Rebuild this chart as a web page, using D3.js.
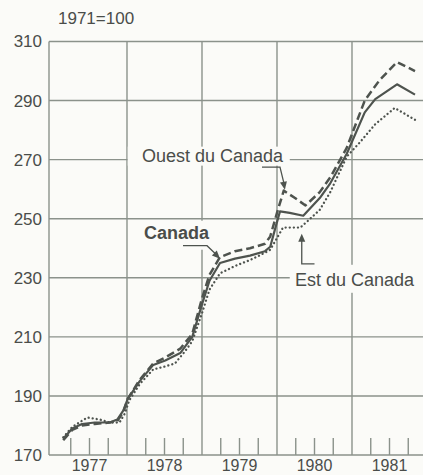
<!DOCTYPE html>
<html><head><meta charset="utf-8">
<script src="https://cdn.jsdelivr.net/npm/d3@7"></script>
<style>
html,body{margin:0;padding:0;background:#fbfbf8;}
svg{display:block;}
text{font-family:"Liberation Sans",Arial,Helvetica,sans-serif;fill:#4a4d4a;}
</style></head>
<body>
<script>
// ---- data ----
const yearLabels = [1977, 1978, 1979, 1980, 1981];
const yTickValues = [170, 190, 210, 230, 250, 270, 290, 310];
const indexNote = "1971=100";
const seriesNames = ["Canada", "Ouest du Canada", "Est du Canada"];

// [decimal year, index value]
const canada = [[1977.15,175.5],[1977.27,179],[1977.40,180.5],[1977.57,181],[1977.77,181],[1977.87,182],[1977.95,185],[1978.01,189],[1978.17,195],[1978.35,200.5],[1978.51,202],[1978.71,204.5],[1978.87,210],[1979.0,221],[1979.1,229],[1979.24,235],[1979.44,236.5],[1979.64,237.5],[1979.84,239],[1979.91,240.5],[1979.99,248],[1980.04,252.5],[1980.17,252],[1980.35,251],[1980.57,257],[1980.71,262],[1980.93,272],[1981.17,286],[1981.31,290.5],[1981.6,295.5],[1981.84,292]];
const ouest = [[1977.15,175],[1977.27,178.5],[1977.40,180],[1977.57,180.5],[1977.77,181],[1977.87,181.5],[1977.95,184.5],[1978.01,189],[1978.17,195.5],[1978.35,201],[1978.51,203],[1978.71,206],[1978.87,211],[1979.0,223],[1979.1,231],[1979.24,237],[1979.44,239],[1979.64,240],[1979.84,241.5],[1979.91,244],[1980.0,252],[1980.09,259.5],[1980.24,257],[1980.38,254.5],[1980.57,259],[1980.71,264],[1980.93,274],[1981.17,290],[1981.37,297],[1981.6,303],[1981.84,300]];
const est = [[1977.15,176],[1977.27,179.5],[1977.47,182.7],[1977.64,182],[1977.77,181],[1977.9,181],[1977.97,184],[1978.03,188.5],[1978.17,194],[1978.35,199],[1978.51,200],[1978.64,201],[1978.77,205],[1978.87,208.5],[1979.0,218],[1979.1,226],[1979.24,231.5],[1979.44,234],[1979.64,236],[1979.84,238.5],[1979.91,239.5],[1980.08,247],[1980.31,247],[1980.40,249],[1980.57,253],[1980.71,259],[1980.93,271],[1981.11,276],[1981.31,282],[1981.57,287.5],[1981.84,283.5]];

// ---- layout ----
const W = 423, H = 475;
const gridColor = "#8b928b", lineColor = "#4e534e";
const svg = d3.select("body").append("svg").attr("width", W).attr("height", H);
svg.append("rect").attr("width", W).attr("height", H).attr("fill", "#fbfbf8");

const x = d3.scaleLinear().domain([1976.96, 1982]).range([49, 427]);
const y = d3.scaleLinear().domain([170, 310]).range([455, 41.5]);
const [x0, x1] = x.domain();

const grid = svg.append("g").attr("stroke", gridColor).attr("stroke-width", 1.4).attr("fill", "none");
grid.selectAll("line.h").data(yTickValues).join("line")
  .attr("x1", x(x0)).attr("x2", x(x1)).attr("y1", d => y(d)).attr("y2", d => y(d));
const vLines = [x0].concat(yearLabels.slice(1), [x1]);
grid.selectAll("line.v").data(vLines).join("line")
  .attr("x1", d => x(d)).attr("x2", d => x(d)).attr("y1", y(310)).attr("y2", y(170));
const quarters = [];
yearLabels.forEach(yr => [0.25, 0.5, 0.75].forEach(q => quarters.push(yr + q)));
grid.selectAll("line.q").data(quarters).join("line")
  .attr("x1", d => x(d)).attr("x2", d => x(d)).attr("y1", y(170)).attr("y2", y(170) - 17);

// y tick labels
const yAxis = d3.axisLeft(y).tickValues(yTickValues).tickSize(0).tickPadding(7).tickFormat(d3.format("d"));
const ga = svg.append("g").attr("transform", `translate(${x(x0)},0)`).call(yAxis);
ga.select(".domain").remove();
ga.selectAll("text").attr("font-size", 17).attr("fill", "#4a4d4a")
  .attr("font-family", '"Liberation Sans",Arial,sans-serif');

// x year labels
svg.selectAll("text.yr").data(yearLabels).join("text")
  .attr("x", d => x(d + 0.5)).attr("y", y(170) + 16)
  .attr("text-anchor", "middle").attr("font-size", 16).text(d => d);

// index note
svg.append("text").attr("x", 58).attr("y", 23.5).attr("font-size", 17).text(indexNote);

// ---- series ----
const line = d3.line().x(d => x(d[0])).y(d => y(d[1])).curve(d3.curveLinear);
const lines = svg.append("g").attr("fill", "none").attr("stroke", lineColor).attr("stroke-linejoin", "round");
lines.append("path").datum(est).attr("d", line).attr("stroke-width", 2.3)
  .attr("stroke-dasharray", "0.1,4").attr("stroke-linecap", "round");
lines.append("path").datum(ouest).attr("d", line).attr("stroke-width", 2.5)
  .attr("stroke-dasharray", "8,4");
lines.append("path").datum(canada).attr("d", line).attr("stroke-width", 2.2);

// ---- annotations ----
const ann = svg.append("g");
function box(x1_, y1_, x2_, y2_) {
  ann.append("rect").attr("x", x1_).attr("y", y1_).attr("width", x2_ - x1_).attr("height", y2_ - y1_).attr("fill", "#fbfbf8");
}
function arrowHead(tx, ty, ang) {
  const L = 8, w = 3.5;
  const bx = tx - L * Math.cos(ang), by = ty - L * Math.sin(ang);
  const px = -Math.sin(ang) * w, py = Math.cos(ang) * w;
  ann.append("path").attr("d", `M${tx},${ty}L${bx + px},${by + py}L${bx - px},${by - py}Z`).attr("fill", lineColor);
}
function leader(pts) {
  ann.append("path").attr("d", d3.line()(pts)).attr("fill", "none").attr("stroke", lineColor).attr("stroke-width", 1.3);
}

// Ouest du Canada
const oy = y(270);
box(x(1978.01), oy - 13, x(1980.17), oy + 6);
ann.append("text").attr("x", x(1980.08)).attr("y", oy + 2.5).attr("text-anchor", "end").attr("font-size", 18).text(seriesNames[1]);
leader([[x(1979.8), oy + 7.5], [x(1980.04), oy + 7.5], [x(1980.1), oy + 26]]);
arrowHead(x(1980.105), oy + 30, Math.atan2(22, 4));

// Canada
const cy = y(250);
box(x(1978.17), cy + 2, x(1979.1), cy + 31);
ann.append("text").attr("x", x(1978.227)).attr("y", cy + 20).attr("font-size", 18).attr("font-weight", "bold").text(seriesNames[0]);
leader([[x(1978.747), cy + 27], [x(1979.067), cy + 27], [x(1979.2), cy + 36.5]]);
arrowHead(x(1979.24), cy + 40, Math.atan2(13, 13));

// Est du Canada
const ey = y(230);
box(x(1980.17), ey - 13, x(1982), ey + 15);
ann.append("text").attr("x", x(1980.24)).attr("y", ey + 8.5).attr("font-size", 18).text(seriesNames[2]);
leader([[x(1980.5), ey - 14], [x(1980.33), ey - 14], [x(1980.33), ey - 38]]);
arrowHead(x(1980.33), ey - 44, -Math.PI / 2);
</script>
</body></html>
